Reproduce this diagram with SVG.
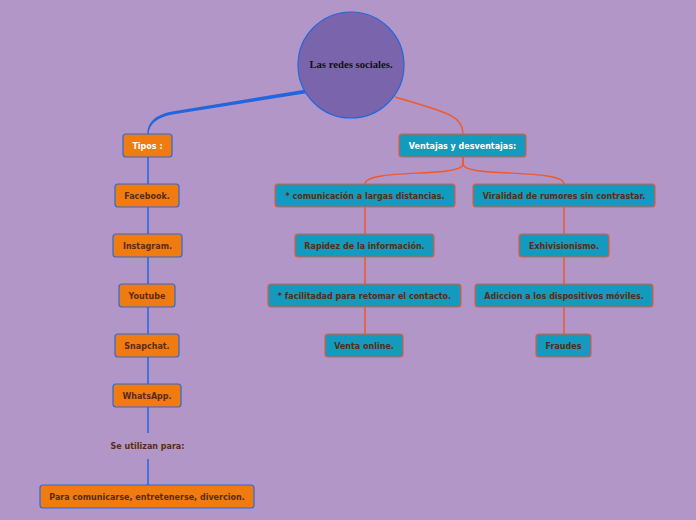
<svg xmlns="http://www.w3.org/2000/svg" width="696" height="520" viewBox="0 0 696 520">
<style>
.bg{fill:#B296C8}
.o{fill:#EF7B11;stroke:#2B6BD9;stroke-width:1.2}
.t{fill:#1499BF;stroke:#E8593A;stroke-width:1.2}
.lb{fill:none;stroke:#2266DD;stroke-width:1.5}
.lr{fill:none;stroke:#EE5A2E;stroke-width:1.5}
text{font-family:"DejaVu Sans",Verdana,sans-serif;font-weight:bold;font-size:8px;text-anchor:middle;fill:#5A2C12}
.w{fill:#FFFFFF}
</style>
<rect class="bg" x="0" y="0" width="696" height="520"/>
<g id="connectors">
<path d="M306,89.4 L172,111.6 Q147.3,116.2 147.3,134 L148.7,134 Q148.7,119.2 172.4,114.4 L306.6,93.2 Z" fill="#2266DD"/>
<path class="lr" d="M395,97 C445,112 463,115 463,134" stroke-width="2"/>
<path class="lr" d="M463,157 L463,164 C463,178 365,168 365,184"/>
<path class="lr" d="M463,157 L463,164 C463,178 564,168 564,184"/>
<path class="lb" d="M148,157 V184 M148,207 V234 M148,257 V284 M148,307 V334 M148,357 V384 M148,407 V433 M148,459 V485"/>
<path class="lr" d="M365,207 V234 M365,257 V284 M365,307 V334"/>
<path class="lr" d="M564,207 V234 M564,257 V284 M564,307 V334"/>
</g>
<g id="root">
<circle cx="351" cy="65" r="53" fill="#7A65AD" stroke="#2266DD" stroke-width="1.2"/>
<text x="351" y="68" style="font-family:'Liberation Serif','Times New Roman',serif;font-size:10.7px;fill:#111111">Las redes sociales.</text>
</g>
<g id="tipos"><rect class="o" x="123" y="134" width="49" height="23" rx="3"/><text class="w" x="147.5" y="148.5">Tipos :</text></g>
<g id="facebook"><rect class="o" x="115" y="184" width="64" height="23" rx="3"/><text x="147" y="198.5">Facebook.</text></g>
<g id="instagram"><rect class="o" x="113" y="234" width="69" height="23" rx="3"/><text x="147.5" y="248.5">Instagram.</text></g>
<g id="youtube"><rect class="o" x="119" y="284" width="56" height="23" rx="3"/><text x="147" y="298.5">Youtube</text></g>
<g id="snapchat"><rect class="o" x="115" y="334" width="64" height="23" rx="3"/><text x="147" y="348.5">Snapchat.</text></g>
<g id="whatsapp"><rect class="o" x="113" y="384" width="68" height="23" rx="3"/><text x="147" y="398.5">WhatsApp.</text></g>
<g id="se-utilizan"><text x="147.5" y="449">Se utilizan para:</text></g>
<g id="para"><rect class="o" x="40" y="485" width="214" height="23" rx="3"/><text x="147" y="499.5">Para comunicarse, entretenerse, divercion.</text></g>
<g id="ventajas"><rect class="t" x="399" y="134" width="127" height="23" rx="3"/><text class="w" x="462.5" y="148.5">Ventajas y desventajas:</text></g>
<g id="comunicacion"><rect class="t" x="275" y="184" width="180" height="23" rx="3"/><text x="365" y="198.5">* comunicación a largas distancias.</text></g>
<g id="viralidad"><rect class="t" x="473" y="184" width="182" height="23" rx="3"/><text x="564" y="198.5">Viralidad de rumores sin contrastar.</text></g>
<g id="rapidez"><rect class="t" x="295" y="234" width="139" height="23" rx="3"/><text x="364.5" y="248.5">Rapidez de la información.</text></g>
<g id="exhivisionismo"><rect class="t" x="519" y="234" width="90" height="23" rx="3"/><text x="564" y="248.5">Exhivisionismo.</text></g>
<g id="facilitad"><rect class="t" x="268" y="284" width="193" height="23" rx="3"/><text x="364.5" y="298.5">* facilitadad para retomar el contacto.</text></g>
<g id="adiccion"><rect class="t" x="475" y="284" width="178" height="23" rx="3"/><text x="564" y="298.5">Adiccion a los dispositivos móviles.</text></g>
<g id="venta"><rect class="t" x="325" y="334" width="78" height="23" rx="3"/><text x="364" y="348.5">Venta online.</text></g>
<g id="fraudes"><rect class="t" x="536" y="334" width="55" height="23" rx="3"/><text x="563.5" y="348.5">Fraudes</text></g>
</svg>
